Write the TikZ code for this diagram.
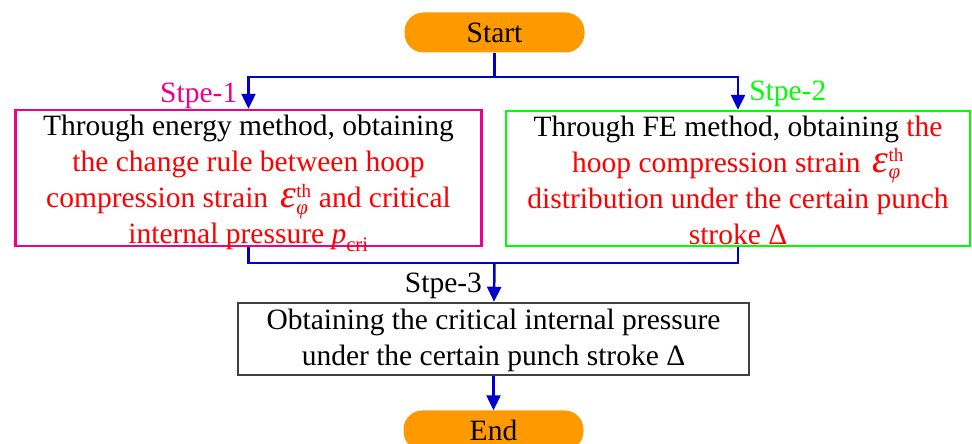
\documentclass[tikz,border=0pt]{standalone}
\usepackage{fontspec}
\setmainfont{Liberation Serif}
\usepackage{xcolor}
\usepackage{amsmath}
\usepackage{tikz}
\usetikzlibrary{positioning, arrows.meta}

\definecolor{flowblue}{RGB}{0,0,204}
\definecolor{termorange}{RGB}{255,153,0}
\definecolor{boxgray}{RGB}{64,64,64}

\newcommand{\hoopstrain}{$\text{\fontsize{40}{40}\selectfont\itshape ε}^{\text{\fontsize{19}{19}\selectfont th}}_{\text{\fontsize{21}{21}\selectfont\itshape φ}}$}
\newcommand{\pcri}{$\text{\itshape p}_{\text{cri}}$}
\newcommand{\steptext}[2]{\raisebox{#1}[0pt][0pt]{\begin{tabular}{@{}c@{}}#2\end{tabular}}}

\begin{document}
\begin{tikzpicture}[x=1pt, y=-1pt, every node/.style={font=\fontsize{29.5}{36}\selectfont}]

  \tikzstyle{terminal}=[rounded corners=19pt, fill=termorange, minimum width=180pt, minimum height=40pt, inner sep=0pt]
  \tikzstyle{stepbox}=[draw, line width=2.5pt, inner sep=0pt]
  \tikzstyle{flow}=[flowblue, line width=2.5pt]
  \tikzstyle{arrow}=[flow, -{Triangle[length=15pt, width=14pt]}]
  \tikzstyle{steplabel}=[inner sep=2pt]

  \useasboundingbox (0,0) rectangle (972,444);

  \node [terminal] (start) at (494.5,32.5) {Start};

  \node [stepbox, draw=magenta, minimum width=466pt, minimum height=136pt] (energy) at (248.5,178) {\steptext{-11pt}{
    Through energy method, obtaining \\
    \textcolor{red}{the change rule between hoop} \\
    \textcolor{red}{compression strain \,\hoopstrain{} and critical} \\
    \textcolor{red}{internal pressure \pcri}
  }};
  \node [stepbox, draw=green, minimum width=464pt, minimum height=135pt] (fem) at (738,178.5) {\steptext{-11pt}{
    Through FE method, obtaining \textcolor{red}{the} \\
    \textcolor{red}{hoop compression strain \,\hoopstrain} \\
    \textcolor{red}{distribution under the certain punch} \\
    \textcolor{red}{stroke Δ}
  }};

  \node [stepbox, draw=boxgray, minimum width=511pt, minimum height=72pt] (critical) at (493.5,339) {\steptext{-8pt}{
    Obtaining the critical internal pressure \\
    under the certain punch stroke Δ
  }};

  \node [terminal, below = 34pt of critical] (end) {End};

  \coordinate (fork) at (494.5,77);
  \coordinate (join) at (494.5,263);

  \draw [flow] (start) -- (fork);
  \draw [arrow] (fork) -| (energy) node[steplabel, pos=.8, left=8pt, text=magenta] {Stpe-1};
  \draw [arrow] (fork) -| (fem) node[steplabel, pos=.75, right=8pt, text=green] {Stpe-2};

  \draw [flow] (energy) |- (join) -| (fem);
  \draw [arrow] (join) -- (critical) node[steplabel, pos=.6, left=9pt, text=black] {Stpe-3};
  \draw [arrow] (critical) -- (end);
\end{tikzpicture}
\end{document}
